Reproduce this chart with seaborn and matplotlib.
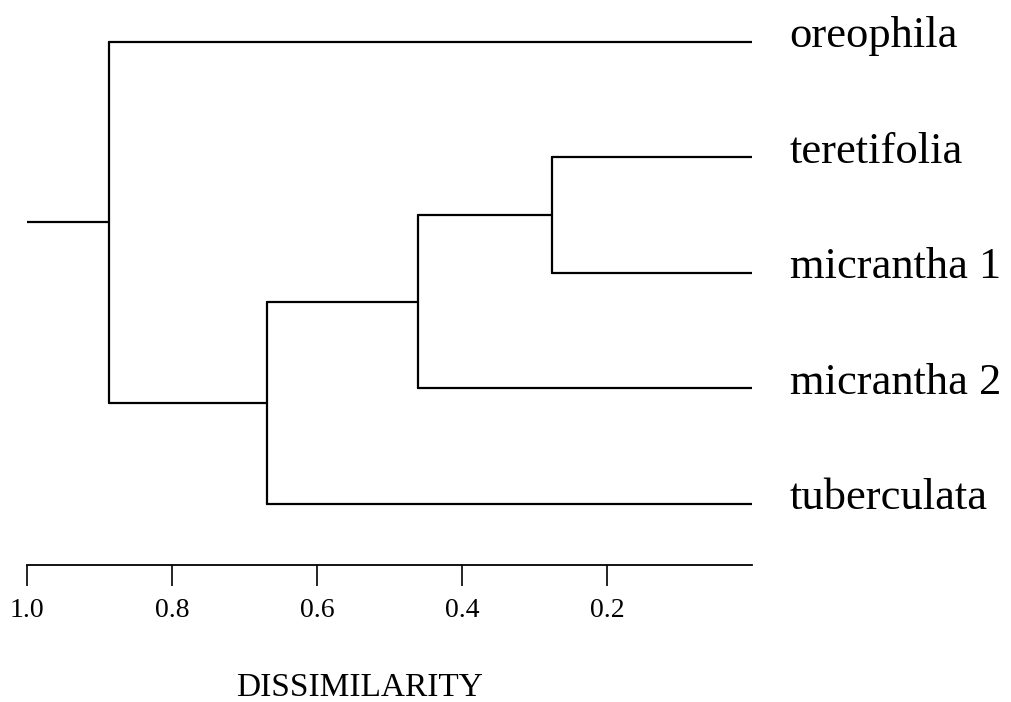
import numpy as np
import pandas as pd
import matplotlib
matplotlib.use('Agg')
import matplotlib.pyplot as plt
import seaborn as sns

# 叶节点（自上而下）
leaves = ['oreophila', 'teretifolia', 'micrantha 1', 'micrantha 2', 'tuberculata']
# 合并步骤：左子节点，右子节点，合并高度（相异度）
merge_left = [1, 5, 6, 0]
merge_right = [2, 3, 4, 7]
merge_height = [0.276, 0.461, 0.669, 0.887]
root_start = 1.0
tick_values = [1.0, 0.8, 0.6, 0.4, 0.2]
tick_labels = ['1.0', '0.8', '0.6', '0.4', '0.2']

# 计算每个节点的位置
pos_y = {i: float(i) for i in range(len(leaves))}
pos_x = {i: 0.0 for i in range(len(leaves))}
rows = []
seg = 0
for k, (a, b, h) in enumerate(zip(merge_left, merge_right, merge_height)):
    node = len(leaves) + k
    for c in (a, b):
        rows.append({'x': pos_x[c], 'y': pos_y[c], 'seg': seg})
        rows.append({'x': h, 'y': pos_y[c], 'seg': seg})
        seg += 1
    rows.append({'x': h, 'y': pos_y[a], 'seg': seg})
    rows.append({'x': h, 'y': pos_y[b], 'seg': seg})
    seg += 1
    pos_y[node] = (pos_y[a] + pos_y[b]) / 2
    pos_x[node] = h
root = len(leaves) + len(merge_height) - 1
rows.append({'x': pos_x[root], 'y': pos_y[root], 'seg': seg})
rows.append({'x': root_start, 'y': pos_y[root], 'seg': seg})
df = pd.DataFrame(rows)

sns.set_style('white')
plt.rcParams['font.family'] = ['Liberation Serif', 'DejaVu Serif']

fig = plt.figure(figsize=(10.12, 7.02), dpi=100)
ax = fig.add_axes([27 / 1012, 1 - 565 / 702, 725 / 1012, 558 / 702])

sns.lineplot(data=df, x='x', y='y', units='seg', estimator=None, sort=False,
             color='black', linewidth=1.6, ax=ax, legend=False)

ax.set_xlim(1.0, 0.0)
ax.set_ylim(4.53, -0.303)
ax.set_xticks(tick_values)
ax.set_xticklabels(tick_labels, fontsize=20)
ax.set_yticks([])
ax.set_xlabel('')
ax.set_ylabel('')
ax.tick_params(axis='x', direction='out', length=15, width=1.2, pad=9,
               color='black', labelcolor='black', bottom=True)
for s in ['left', 'top', 'right']:
    ax.spines[s].set_visible(False)
ax.spines['bottom'].set_color('black')
ax.spines['bottom'].set_linewidth(1.3)

for i, name in enumerate(leaves):
    ax.text(-0.052, i - 0.05, name, fontsize=32, va='center', ha='left',
            color='black', clip_on=False)

fig.text(360 / 1012, 1 - 688 / 702, 'DISSIMILARITY', fontsize=24,
         ha='center', va='center', color='black')

fig.savefig('out.png', dpi=100)
